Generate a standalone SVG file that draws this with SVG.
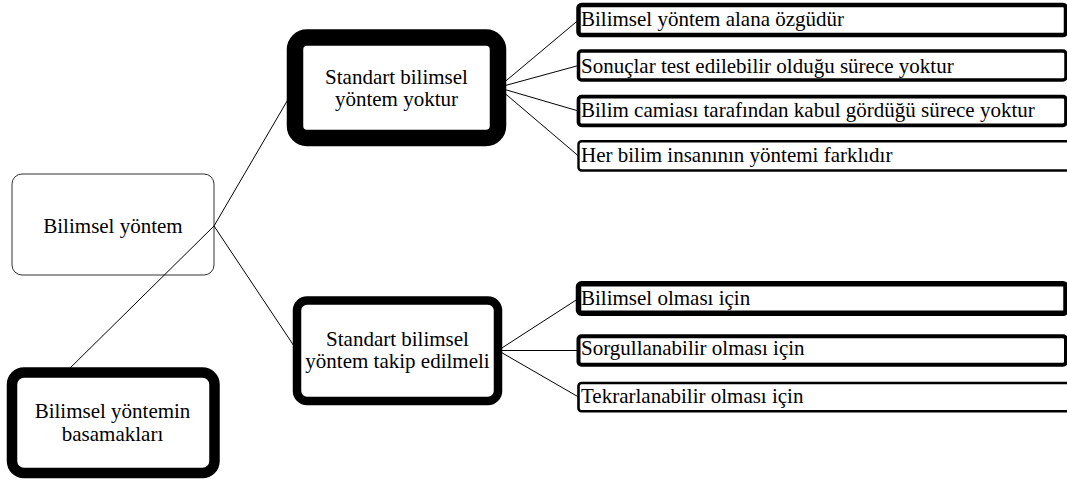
<svg xmlns="http://www.w3.org/2000/svg" width="1067" height="483" viewBox="0 0 1067 483">
  <style>
    .box { fill: #ffffff; stroke: #000000; }
    .thin { fill: none; stroke: #333333; stroke-width: 1; }
    .lbl { font-family: "Liberation Serif", "DejaVu Serif", serif; font-size: 21px; fill: #000000; }
    .mid { text-anchor: middle; }
    .link { stroke: #000000; stroke-width: 1; fill: none; }
  </style>
  <rect width="1067" height="483" fill="#ffffff"/>

  <!-- root: outline only, its links run across it -->
  <g id="node-root">
    <rect class="thin" x="12" y="174" width="202" height="101" rx="10"/>
    <text class="lbl mid" x="113" y="233">Bilimsel yöntem</text>
  </g>

  <!-- connectors (drawn before the framed nodes so borders sit on top) -->
  <g id="connectors">
    <line class="link" x1="214" y1="226" x2="295" y2="87.5"/>
    <line class="link" x1="214" y1="226" x2="297" y2="350.5"/>
    <line class="link" x1="214" y1="226" x2="64" y2="374"/>
    <line class="link" x1="498" y1="87.5" x2="578.5" y2="20"/>
    <line class="link" x1="498" y1="87.5" x2="578.5" y2="65.5"/>
    <line class="link" x1="498" y1="87.5" x2="578.5" y2="111"/>
    <line class="link" x1="498" y1="87.5" x2="578.5" y2="156"/>
    <line class="link" x1="498" y1="350.5" x2="578.5" y2="298.5"/>
    <line class="link" x1="498" y1="350.5" x2="578.5" y2="350.5"/>
    <line class="link" x1="498" y1="350.5" x2="578.5" y2="397"/>
  </g>

  <g id="node-steps">
    <rect class="box" x="12" y="372.5" width="202.5" height="100.5" rx="12" stroke-width="10.5"/>
    <text class="lbl mid" x="112.5" y="418">Bilimsel yöntemin</text>
    <text class="lbl mid" x="112.5" y="441">basamakları</text>
  </g>

  <g id="node-no-standard">
    <rect class="box" x="295" y="37.5" width="203" height="100.5" rx="12" stroke-width="16.5"/>
    <text class="lbl mid" x="396.5" y="84">Standart bilimsel</text>
    <text class="lbl mid" x="396.5" y="106">yöntem yoktur</text>
  </g>

  <g id="node-standard">
    <rect class="box" x="297" y="300.5" width="201" height="100.5" rx="10" stroke-width="8.5"/>
    <text class="lbl mid" x="397.5" y="346">Standart bilimsel</text>
    <text class="lbl mid" x="397.5" y="368">yöntem takip edilmeli</text>
  </g>

  <!-- leaves of "Standart bilimsel yöntem yoktur" -->
  <g id="leaf-1">
    <rect class="box" x="578.5" y="5" width="487.5" height="30" rx="3" stroke-width="4.5"/>
    <text class="lbl" x="581" y="26">Bilimsel yöntem alana özgüdür</text>
  </g>
  <g id="leaf-2">
    <rect class="box" x="578.5" y="51" width="487.5" height="29" rx="3" stroke-width="3.5"/>
    <text class="lbl" x="581" y="72.5">Sonuçlar test edilebilir olduğu sürece yoktur</text>
  </g>
  <g id="leaf-3">
    <rect class="box" x="578.5" y="96.7" width="487.5" height="28.6" rx="3" stroke-width="3.7"/>
    <text class="lbl" x="581" y="116.7">Bilim camiası tarafından kabul gördüğü sürece yoktur</text>
  </g>
  <g id="leaf-4">
    <rect class="box" x="578.5" y="141.2" width="492" height="29.3" rx="3" stroke-width="2.4"/>
    <text class="lbl" x="581" y="162.3">Her bilim insanının yöntemi farklıdır</text>
  </g>

  <!-- leaves of "Standart bilimsel yöntem takip edilmeli" -->
  <g id="leaf-5">
    <rect class="box" x="578.5" y="283.7" width="487.5" height="29.6" rx="3" stroke-width="5.5"/>
    <text class="lbl" x="581" y="305">Bilimsel olması için</text>
  </g>
  <g id="leaf-6">
    <rect class="box" x="578.5" y="336.2" width="487.5" height="28.5" rx="3" stroke-width="4"/>
    <text class="lbl" x="581" y="355">Sorgullanabilir olması için</text>
  </g>
  <g id="leaf-7">
    <rect class="box" x="578.5" y="383" width="492" height="28.3" rx="3" stroke-width="2.6"/>
    <text class="lbl" x="581" y="403.3">Tekrarlanabilir olması için</text>
  </g>
</svg>
